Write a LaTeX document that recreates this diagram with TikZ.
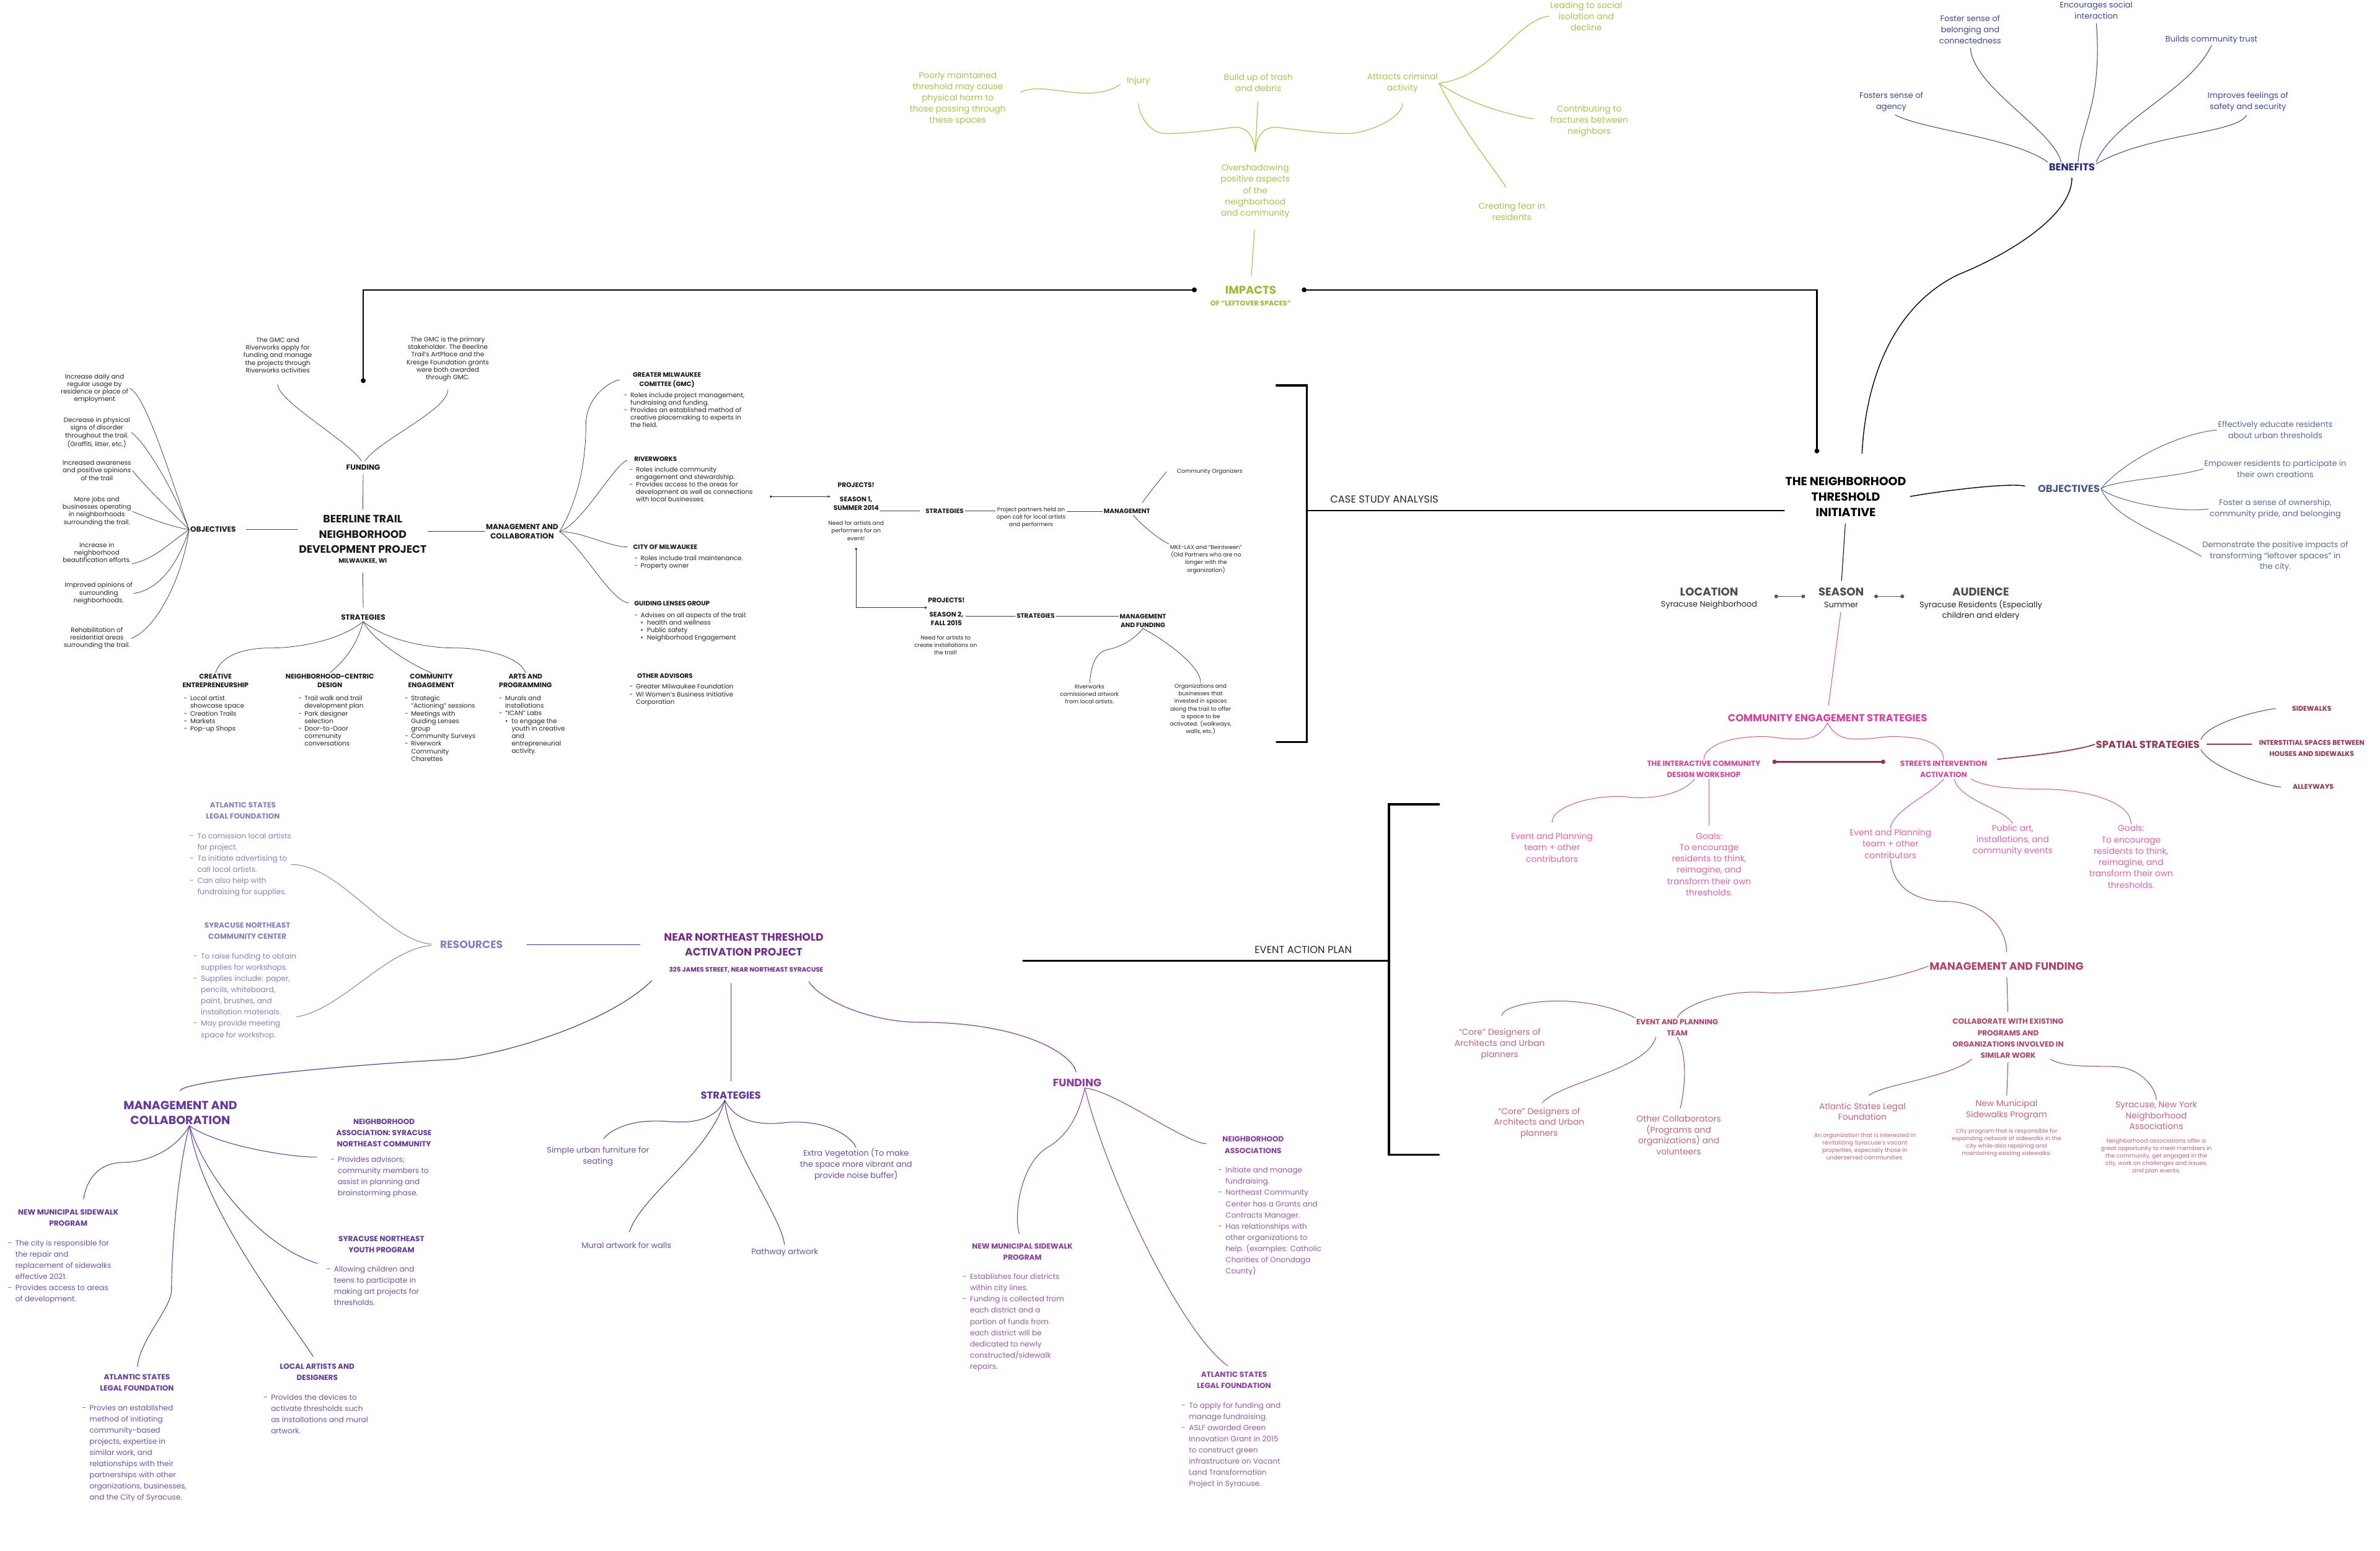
\documentclass[tikz,border=0pt]{standalone}
\usepackage{fontspec}
\setmainfont{Poppins}
\usepackage{tikz}
\usetikzlibrary{positioning,arrows.meta,calc}

\definecolor{limegrn}{RGB}{164,199,70}
\definecolor{limedark}{RGB}{150,190,50}
\definecolor{navyblue}{RGB}{36,44,130}
\definecolor{benblue}{RGB}{60,70,160}
\definecolor{slateblue}{RGB}{86,106,156}
\definecolor{slatedark}{RGB}{70,90,142}
\definecolor{pinkhot}{RGB}{212,66,158}
\definecolor{pinkleaf}{RGB}{226,96,172}
\definecolor{maroon}{RGB}{152,50,82}
\definecolor{rosewood}{RGB}{176,68,110}
\definecolor{roseleaf}{RGB}{198,96,136}
\definecolor{grape}{RGB}{100,56,160}
\definecolor{grapetxt}{RGB}{114,80,176}
\definecolor{lavender}{RGB}{136,126,194}
\definecolor{plum}{RGB}{118,44,140}
\definecolor{orchid}{RGB}{140,60,160}
\definecolor{orchidtxt}{RGB}{156,86,174}
\definecolor{violet}{RGB}{92,56,156}

\newcommand{\fsz}[2]{\fontsize{#1}{#2}\selectfont}
\newcommand{\ddash}{\makebox[1em][l]{-}}
\newcommand{\dgap}{\hspace*{1em}}
\newcommand{\dbul}{\makebox[1em][l]{\textbullet}}

\begin{document}
\begin{tikzpicture}[x=0.05cm, y=-0.05cm, line cap=round,
  every node/.style={align=center, inner sep=1pt},
  lst/.style={align=left, anchor=north west, inner sep=0pt},
  % black case study
  bktxt/.style={font=\fsz{6}{7.1}, text=black!85},
  bkneed/.style={font=\fsz{5.3}{7.1}, text=black!85},
  bklbl/.style={font=\fsz{7}{9}\bfseries, text=black!90},
  bklbl2/.style={font=\fsz{6}{8.1}\bfseries, text=black!90},
  bkproj/.style={font=\fsz{6.2}{8.1}\bfseries, text=black!90},
  bksub/.style={font=\fsz{6.3}{8.3}\bfseries, text=black!90},
  bkhd2/.style={font=\fsz{6}{8.4}\bfseries, text=black!90},
  bktitle/.style={font=\fsz{10}{14}\bfseries, text=black!90},
  bkmilw/.style={font=\fsz{5.8}{7}\bfseries, text=black!90},
  bkline/.style={draw=black!75, line width=0.45pt},
  kline/.style={draw=black, line width=0.8pt},
  kthick/.style={draw=black, line width=2pt},
  kconn/.style={draw=black, line width=1.2pt, {Circle[length=4.5pt]}-{Circle[length=4.5pt]}},
  sdot/.style={draw=black!80, line width=0.45pt, {Circle[length=2.2pt]}-{Circle[length=2.2pt]}},
  sarrow/.style={draw=black!80, line width=0.45pt, {Circle[length=2.2pt]}-{Stealth[length=3pt]}},
  sect/.style={font=\fsz{9.5}{11}, text=black!85},
  % green impacts
  gtxt/.style={font=\fsz{8}{10.5}, text=limegrn},
  ghead/.style={font=\fsz{10.5}{12}\bfseries, text=limedark},
  gsub/.style={font=\fsz{6.5}{8}\bfseries, text=limedark},
  gline/.style={draw=limegrn, line width=0.7pt},
  % blue benefits / objectives
  btxt/.style={font=\fsz{7.5}{10.5}, text=benblue},
  bhead/.style={font=\fsz{9.5}{11}\bfseries, text=navyblue},
  bline/.style={draw=benblue, line width=0.6pt},
  ntitle/.style={font=\fsz{11}{14.5}\bfseries, text=black},
  ohead/.style={font=\fsz{9.5}{11}\bfseries, text=slatedark},
  otxt/.style={font=\fsz{7.5}{10.3}, text=slateblue},
  oline/.style={draw=slateblue, line width=0.6pt},
  shead/.style={font=\fsz{10.5}{12}\bfseries, text=black!70},
  ssub/.style={font=\fsz{7.5}{10}, text=black!85},
  dumb/.style={draw=black!65, line width=1pt, {Circle[length=3.5pt]}-{Circle[length=3.5pt]}},
  % pink engagement
  phead/.style={font=\fsz{9.5}{11}\bfseries, text=pinkhot},
  psub/.style={font=\fsz{7}{10.5}\bfseries, text=pinkhot},
  pleaf/.style={font=\fsz{8}{10.6}, text=pinkleaf},
  pline/.style={draw=pinkhot!90, line width=0.6pt},
  mhead/.style={font=\fsz{9.5}{11}\bfseries, text=maroon},
  mitem/.style={font=\fsz{6.4}{10.3}\bfseries, text=maroon},
  mline/.style={draw=maroon, line width=0.6pt},
  mdumb/.style={draw=maroon, line width=1.4pt, {Circle[length=4pt]}-{Circle[length=4pt]}},
  mfhead/.style={font=\fsz{10}{12}\bfseries, text=rosewood},
  mfsub/.style={font=\fsz{7}{10.5}\bfseries, text=rosewood},
  mfleaf/.style={font=\fsz{8}{10.3}, text=roseleaf},
  mfnote/.style={font=\fsz{5.4}{7}, text=roseleaf},
  mline2/.style={draw=rosewood, line width=0.6pt},
  % purple project
  rhead/.style={font=\fsz{7}{10.5}\bfseries, text=lavender},
  rtxt/.style={font=\fsz{7}{10.5}, text=lavender},
  rbig/.style={font=\fsz{10}{12}\bfseries, text=lavender},
  rline/.style={draw=lavender, line width=0.6pt},
  ptitle/.style={font=\fsz{10}{14}\bfseries, text=plum},
  paddr/.style={font=\fsz{6}{8}\bfseries, text=plum},
  mchead/.style={font=\fsz{11}{14}\bfseries, text=grape},
  mitemhd/.style={font=\fsz{7}{10.5}\bfseries, text=grape},
  mlist/.style={font=\fsz{7}{10.5}, text=grapetxt},
  mcline/.style={draw=grape, line width=0.6pt},
  pshead/.style={font=\fsz{9.5}{11}\bfseries, text=violet},
  psleaf/.style={font=\fsz{7.5}{10.3}, text=violet!90},
  psline/.style={draw=violet, line width=0.6pt},
  pfhead/.style={font=\fsz{10}{12}\bfseries, text=orchid},
  fitemhd/.style={font=\fsz{7}{10.5}\bfseries, text=orchid},
  flist/.style={font=\fsz{7}{10.5}, text=orchidtxt},
  fpline/.style={draw=orchid, line width=0.6pt}]

\path[use as bounding box, fill=white] (0,0) rectangle (1568,1022);

% ---------- impacts ----------
\node[gtxt] (poorly) at (631,65) {Poorly maintained\\threshold may cause\\physical harm to\\those passing through\\these spaces};
\node[gtxt] (injury) at (750,53.5) {Injury};
\node[gtxt] (trash) at (829,54.4) {Build up of trash\\and debris};
\node[gtxt] (criminal) at (924,54.8) {Attracts criminal\\activity};
\node[gtxt] (isolation) at (1045,10.6) {Leading to social\\isolation and\\decline};
\node[gtxt] (fractures) at (1047,79.6) {Contributing to\\fractures between\\neighbors};
\node[gtxt] (fear) at (996,139.3) {Creating fear in\\residents};
\node[gtxt] (overshadow) at (827,126) {Overshadowing\\positive aspects\\of the\\neighborhood\\and community};
\node[ghead] (impacts) at (824,191) {IMPACTS};
\node[gsub] (leftover) at (824,200) {OF ``LEFTOVER SPACES''};
\coordinate (gtip) at (827,100);

\draw[gline, shorten <=0.5cm, shorten >=0.2cm] (poorly.east) .. controls +(25,-12) and +(-25,16) .. (injury.west);
\draw[gline, shorten <=0.55cm] (injury.south) .. controls +(0,16) and +(-12,0) .. (768,88) .. controls +(18,0) and +(-10,1) .. (812,84) .. controls +(10,-1) and +(-1,-10) .. (gtip);
\draw[gline, shorten <=0.3cm] (trash.south) -- (gtip);
\draw[gline, shorten <=0.3cm] (criminal.south) .. controls +(0,16) and +(12,0) .. (888,88) .. controls +(-18,0) and +(10,1) .. (842,84) .. controls +(-10,-1) and +(1,-10) .. (gtip);
\draw[gline] (criminal.east) .. controls +(35,-4) and +(-22,3) .. (isolation.west);
\draw[gline, shorten >=0.5cm] (criminal.east) .. controls +(22,16) and +(-16,-2) .. (fractures.west);
\draw[gline, shorten >=0.5cm] (criminal.east) .. controls +(14,30) and +(-6,-14) .. (fear.north);
\draw[gline, shorten <=0.35cm, shorten >=0.3cm] (overshadow.south) -- (impacts.north);

% ---------- benefits ----------
\node[bhead] (benefits) at (1365,110) {BENEFITS};
\node[btxt] (agency) at (1246,67) {Fosters sense of\\agency};
\node[btxt] (belong) at (1298,19.4) {Foster sense of\\belonging and\\connectedness};
\node[btxt] (social) at (1381,6.9) {Encourages social\\interaction};
\node[btxt] (trust) at (1457,26.3) {Builds community trust};
\node[btxt] (safety) at (1481,67) {Improves feelings of\\safety and security};
\draw[bline, shorten <=0.15cm] (agency.south) .. controls +(20,11) and +(-22,-16) .. (benefits.north west);
\draw[bline, shorten <=0.1cm] (belong.south) .. controls +(2,28) and +(-6,-22) .. ([xshift=-0.35cm]benefits.north);
\draw[bline, shorten <=0.1cm] (social.south) .. controls +(4,55) and +(2,-24) .. ([xshift=0.2cm]benefits.north);
\draw[bline] (trust.south) .. controls +(-14,30) and +(12,-28) .. (benefits.north east);
\draw[bline, shorten <=0.1cm] (safety.south) .. controls +(-8,14) and +(35,-20) .. ([yshift=0.1cm]benefits.east);

% ---------- neighborhood threshold initiative ----------
\node[ntitle] (nti) at (1216,327.5) {THE NEIGHBORHOOD\\THRESHOLD\\INITIATIVE};
\draw[kline, shorten <=0.2cm, shorten >=0.75cm] (benefits.south) .. controls +(0,30) and +(30,-12) .. (1290,181) .. controls +(-45,22) and +(3,-60) .. ([xshift=0.5cm]nti.north);
\draw[kconn, shorten <=0.8cm, shorten >=0.75cm] (impacts.east) -| ([xshift=-0.95cm]nti.north);

\node[ohead] (objr) at (1363,322) {OBJECTIVES};
\draw[kline, shorten <=0.1cm, shorten >=0.4cm] (nti.east) .. controls +(22,-4) and +(-18,-4) .. (objr.west);
\node[otxt] (educate) at (1499,283.3) {Effectively educate residents\\about urban thresholds};
\node[otxt] (empower) at (1499,309) {Empower residents to participate in\\their own creations};
\node[otxt] (ownership) at (1499,335.4) {Foster a sense of ownership,\\community pride, and belonging};
\node[otxt] (demonstrate) at (1499,366.6) {Demonstrate the positive impacts of\\transforming ``leftover spaces'' in\\the city.};
\draw[oline] (objr.east) .. controls +(15,-18) and +(-27,3) .. (educate.west);
\draw[oline] (objr.east) .. controls +(10,-6) and +(-20,6) .. (empower.west);
\draw[oline] (objr.east) .. controls +(8,8) and +(-20,3) .. (ownership.west);
\draw[oline] (objr.east) .. controls +(8,20) and +(-25,-15) .. (demonstrate.west);

\node[shead] (location) at (1126,390) {LOCATION};
\node[ssub] (locsub) at (1126,398.6) {Syracuse Neighborhood};
\node[shead] (season) at (1213,390) {SEASON};
\node[ssub] (seasonsub) at (1213,398.6) {Summer};
\node[shead] (audience) at (1305,390) {AUDIENCE};
\node[ssub] (audsub) at (1305,402) {Syracuse Residents (Especially\\children and eldery};
\draw[kline, line width=0.6pt, shorten <=0.2cm, shorten >=0.2cm] (nti.south) -- (season.north);
\draw[dumb, shorten <=1.15cm, shorten >=0.4cm] ([yshift=-0.15cm]location.east) -- ([yshift=-0.15cm]season.west);
\draw[dumb, shorten <=0.3cm, shorten >=1.55cm] ([yshift=-0.15cm]season.east) -- ([yshift=-0.15cm]audience.west);

% ---------- community engagement ----------
\node[phead] (ces) at (1204,473) {COMMUNITY ENGAGEMENT STRATEGIES};
\draw[pline, shorten <=0.1cm, shorten >=0.25cm] (seasonsub.south) -- (ces.north);
\node[psub] (workshop) at (1122.5,507) {THE INTERACTIVE COMMUNITY\\DESIGN WORKSHOP};
\node[psub] (streets) at (1280.5,507) {STREETS INTERVENTION\\ACTIVATION};
\draw[pline] (ces.south) .. controls +(-3,6) and +(10,0) .. (1186,487) .. controls +(-20,0) and +(18,-2) .. (1150,486) .. controls +(-14,1) and +(0,-8) .. (workshop.north);
\draw[pline] (ces.south) .. controls +(3,6) and +(-10,0) .. (1222,487) .. controls +(20,0) and +(-18,-2) .. (1258,486) .. controls +(14,1) and +(0,-8) .. (streets.north);
\draw[mdumb, shorten <=0.35cm, shorten >=0.45cm] ([yshift=0.25cm]workshop.east) -- ([yshift=0.25cm]streets.west);

\node[mhead] (spatial) at (1415,490.5) {SPATIAL STRATEGIES};
\node[mitem] (sidewalks) at (1523,467) {SIDEWALKS};
\node[mitem] (interstitial) at (1523,493) {INTERSTITIAL SPACES BETWEEN\\HOUSES AND SIDEWALKS};
\node[mitem] (alleys) at (1524,518.6) {ALLEYWAYS};
\draw[mline, line width=1pt, shorten <=0.3cm] ([yshift=0.3cm]streets.east) .. controls +(18,-2) and +(-14,5) .. (spatial.west);
\draw[mline, line width=1pt, shorten <=0.2cm, shorten >=0.2cm] (spatial.east) -- (spatial.east -| interstitial.west);
\draw[mline, shorten >=0.5cm] (spatial.north east) .. controls +(5,-12) and +(-15,0) .. (sidewalks.west);
\draw[mline, shorten >=0.35cm] (spatial.south east) .. controls +(5,12) and +(-15,0) .. (alleys.west);

\node[pleaf] (wsteam) at (1022.5,558.5) {Event and Planning\\team + other\\contributors};
\node[pleaf] (wsgoals) at (1126,569.5) {Goals:\\To encourage\\residents to think,\\reimagine, and\\transform their own\\thresholds.};
\draw[pline, shorten >=0.3cm] ([xshift=-0.3cm]workshop.south) .. controls +(-8,10) and +(15,1) .. (1075,525.5) .. controls +(-20,-3) and +(0,-18) .. (wsteam.north);
\draw[pline, shorten >=0.2cm] (wsgoals.north |- workshop.south) -- (wsgoals.north);

\node[pleaf] (stteam) at (1245.5,556) {Event and Planning\\team + other\\contributors};
\node[pleaf] (publicart) at (1326,553.7) {Public art,\\installations, and\\community events};
\node[pleaf] (stgoals) at (1404,564.5) {Goals:\\To encourage\\residents to think,\\reimagine, and\\transform their own\\thresholds.};
\draw[pline] (streets.south) .. controls +(-8,10) and +(2,-12) .. (stteam.north);
\draw[pline] ([xshift=0.35cm]streets.south) .. controls +(3,14) and +(-6,-10) .. (publicart.north);
\draw[pline] ([xshift=0.9cm]streets.south) .. controls +(10,6) and +(-15,0) .. (1345,520) .. controls +(28,0) and +(0,-15) .. (stgoals.north);

% ---------- management and funding ----------
\node[mfhead] (mgmtfund) at (1322,636.6) {MANAGEMENT AND FUNDING};
\draw[mline2, shorten >=0.3cm] (stteam.south) .. controls +(2,20) and +(-18,0) .. (1282,594) .. controls +(25,0) and +(0,-22) .. (mgmtfund.north);
\node[mfsub] (evteam) at (1105,677) {EVENT AND PLANNING\\TEAM};
\node[mfsub] (collab) at (1323,684.3) {COLLABORATE WITH EXISTING\\PROGRAMS AND\\ORGANIZATIONS INVOLVED IN\\SIMILAR WORK};
\draw[mline2] (mgmtfund.west) .. controls +(-25,10) and +(25,2) .. (1162,654) .. controls +(-25,-2) and +(3,-8) .. (evteam.north);
\draw[mline2, shorten <=0.2cm, shorten >=0.2cm] (mgmtfund.south) -- (collab.north);

\node[mfleaf] (core1) at (988,688) {``Core'' Designers of\\Architects and Urban\\planners};
\node[mfleaf] (core2) at (1014,740) {``Core'' Designers of\\Architects and Urban\\planners};
\node[mfleaf] (others) at (1106,748) {Other Collaborators\\(Programs and\\organizations) and\\volunteers};
\draw[mline2, shorten >=0.4cm] (evteam.north west) .. controls +(-35,-18) and +(3,-17) .. (core1.north);
\draw[mline2, shorten >=0.15cm] ([xshift=-0.7cm]evteam.south) .. controls +(-6,22) and +(14,-16) .. (core2.north);
\draw[mline2, shorten >=0.2cm] (evteam.south) .. controls +(8,15) and +(3,-12) .. (others.north);

\node[mfleaf] (aslf) at (1227,732.5) {Atlantic States Legal\\Foundation};
\node[mfnote] (aslfnote) at (1228.6,755.5) {An organization that is interested in\\revitalizing Syracuse's vacant\\properties, especially those in\\underserved communities.};
\node[mfleaf] (sidewalkprog) at (1322,731.3) {New Municipal\\Sidewalks Program};
\node[mfnote] (sidewalknote) at (1322,753) {City program that is responsible for\\expanding network of sidewalks in the\\city while also repairing and\\maintaining existing sidewalks.};
\node[mfleaf] (syrna) at (1420.6,735) {Syracuse, New York\\Neighborhood\\Associations};
\node[mfnote] (syrnanote) at (1420.6,762) {Neighborhood associations offer a\\great opportunity to meet members in\\the community, get engaged in the\\city, work on challenges and issues,\\and plan events.};
\draw[mline2, shorten >=0.3cm] ([xshift=-1.2cm]collab.south) .. controls +(-14,12) and +(12,-11) .. (aslf.north);
\draw[mline2, shorten <=0.1cm, shorten >=0.1cm] (collab.south) -- (sidewalkprog.north);
\draw[mline2] ([xshift=1.4cm]collab.south) .. controls +(10,6) and +(-15,-1) .. (1395,703) .. controls +(15,1) and +(0,-8) .. (syrna.north);

% ---------- brackets ----------
\draw[kthick] (841,254) -- (861,254) -- (861,489) -- (841,489);
\coordinate (csmid) at (861,336.5);
\draw[kthick, line width=1.5pt] (csmid) -- (csmid -| nti.west);
\node[sect] (casestudy) at (912,329) {CASE STUDY ANALYSIS};

\draw[kthick] (948,530) -- (915,530) -- (915,761) -- (948,761);
\coordinate (eapmid) at (915,633);
\coordinate (eapstart) at (674,633);
\draw[kthick, line width=1.5pt] (eapstart) -- (eapmid);
\node[sect] (eap) at (858.6,626) {EVENT ACTION PLAN};

% ---------- beerline trail ----------
\node[bktitle] (beer) at (239,352) {BEERLINE TRAIL\\NEIGHBORHOOD\\DEVELOPMENT PROJECT};
\node[bkmilw] (milw) at (239,370) {MILWAUKEE, WI};
\node[bklbl] (funding) at (239.3,308) {FUNDING};
\node[bklbl] (objectives) at (140.4,349) {OBJECTIVES};
\node[bklbl] (strat) at (239.3,407) {STRATEGIES};
\node[bklbl] (mgmt) at (344,350.3) {MANAGEMENT AND\\COLLABORATION};
\draw[kconn, shorten <=0.9cm, shorten >=2.65cm] (impacts.west) -| (funding.north);
\draw[bkline, shorten <=0.3cm] (objectives.east) -- (objectives.east -| beer.west);
\draw[bkline] (mgmt.west -| beer.east) -- (mgmt.west);
\draw[bkline, shorten <=0.1cm, shorten >=0.15cm] (funding.south) -- (beer.north);
\draw[bkline, shorten <=0.25cm, shorten >=0.2cm] (milw.south) -- (strat.north);

\node[bktxt] (gmcfund) at (183,234) {The GMC and\\Riverworks apply for\\funding and manage\\the projects through\\Riverworks activities};
\node[bktxt] (gmcprimary) at (295,236.6) {The GMC is the primary\\stakeholder. The Beerline\\Trail's ArtPlace and the\\Kresge Foundation grants\\were both awarded\\through GMC.};
\draw[bkline, shorten <=0.35cm, shorten >=0.1cm] (gmcfund.south) .. controls +(0,18) and +(-10,-15) .. (funding.north);
\draw[bkline, shorten <=0.25cm, shorten >=0.1cm] (gmcprimary.south) .. controls +(0,18) and +(10,-15) .. (funding.north);

\node[bktxt] (obj1) at (62.3,256) {Increase daily and\\regular usage by\\residence or place of\\employment};
\node[bktxt] (obj2) at (63.8,285) {Decrease in physical\\signs of disorder\\throughout the trail.\\(Graffiti, litter, etc.)};
\node[bktxt] (obj3) at (63.8,310) {Increased awareness\\and positive opinions\\of the trail};
\node[bktxt] (obj4) at (63.8,337) {More jobs and\\businesses operating\\in neighborhoods\\surrounding the trail.};
\node[bktxt] (obj5) at (63.8,364) {Increase in\\neighborhood\\beautification efforts.};
\node[bktxt] (obj6) at (65,391) {Improved opinions of\\surrounding\\neighborhoods.};
\node[bktxt] (obj7) at (63.8,420.6) {Rehabilitation of\\residential areas\\surrounding the trail.};
\draw[bkline] (objectives.west) .. controls +(-13,-37) and +(10,3) .. (obj1.east);
\draw[bkline] (objectives.west) .. controls +(-12,-30) and +(8,5) .. (obj2.east);
\draw[bkline] (objectives.west) .. controls +(-15,-15) and +(8,10) .. (obj3.east);
\draw[bkline] (objectives.west) .. controls +(-12,-2) and +(12,5) .. (obj4.east);
\draw[bkline] (objectives.west) .. controls +(-12,8) and +(15,-3) .. (obj5.south east);
\draw[bkline] (objectives.west) .. controls +(-8,25) and +(15,-2) .. (obj6.east);
\draw[bkline] (objectives.west) .. controls +(-5,35) and +(15,-5) .. (obj7.east);

\node[bksub] (creative) at (142,448.7) {CREATIVE\\ENTREPRENEURSHIP};
\node[bktxt, lst] (creativelist) at (121,458.3) {\ddash Local artist\\\dgap showcase space\\\ddash Creation Trails\\\ddash Markets\\\ddash Pop-up Shops};
\node[bksub] (ncd) at (217.3,448.7) {NEIGHBORHOOD-CENTRIC\\DESIGN};
\node[bktxt, lst] (ncdlist) at (196.3,458.3) {\ddash Trail walk and trail\\\dgap development plan\\\ddash Park designer\\\dgap selection\\\ddash Door-to-Door\\\dgap community\\\dgap conversations};
\node[bksub] (ceng) at (284.2,448.7) {COMMUNITY\\ENGAGEMENT};
\node[bktxt, lst] (cenglist) at (266.5,458.3) {\ddash Strategic\\\dgap ``Actioning'' sessions\\\ddash Meetings with\\\dgap Guiding Lenses\\\dgap group\\\ddash Community Surveys\\\ddash Riverwork\\\dgap Community\\\dgap Charettes};
\node[bksub] (arts) at (346.2,448.7) {ARTS AND\\PROGRAMMING};
\node[bktxt, lst] (artslist) at (328.5,458.3) {\ddash Murals and\\\dgap Installations\\\ddash ``ICAN'' Labs\\\dgap\dbul to engage the\\\dgap\dgap youth in creative\\\dgap\dgap and\\\dgap\dgap entrepreneurial\\\dgap\dgap activity.};
\draw[bkline] (strat.south) .. controls +(-15,12) and +(20,0) .. (178,427) .. controls +(-20,0) and +(3,-10) .. (creative.north);
\draw[bkline] (strat.south) .. controls +(-4,15) and +(10,-8) .. (ncd.north);
\draw[bkline] (strat.south) .. controls +(6,12) and +(-15,-6) .. (ceng.north);
\draw[bkline] (strat.south) .. controls +(15,12) and +(-20,0) .. (300,427) .. controls +(20,0) and +(-3,-10) .. (arts.north);

\node[bkhd2] (gmc) at (439.4,250.4) {GREATER MILWAUKEE\\COMITTEE (GMC)};
\node[bktxt, lst] (gmclist) at (411,258.4) {\ddash Roles include project management,\\\dgap fundraising and funding.\\\ddash Provides an established method of\\\dgap creative placemaking to experts in\\\dgap the field.};
\node[bkhd2, anchor=west] (river) at (417,302.5) {RIVERWORKS};
\node[bktxt, lst] (riverlist) at (414.6,307.4) {\ddash Roles include community\\\dgap engagement and stewardship.\\\ddash Provides access to the areas for\\\dgap development as well as connections\\\dgap with local businesses.};
\node[bkhd2, anchor=west] (city) at (416.3,360.4) {CITY OF MILWAUKEE};
\node[bktxt, lst] (citylist) at (417.7,365.9) {\ddash Roles include trail maintenance.\\\ddash Property owner};
\node[bkhd2, anchor=west] (guiding) at (417,397.7) {GUIDING LENSES GROUP};
\node[bktxt, lst] (guidinglist) at (417.7,403.4) {\ddash Advises on all aspects of the trail:\\\dgap\dbul health and wellness\\\dgap\dbul Public safety\\\dgap\dbul Neighborhood Engagement};
\node[bkhd2, anchor=west] (advisors) at (419,445.4) {OTHER ADVISORS};
\node[bktxt, lst] (advisorslist) at (414.6,450.7) {\ddash Greater Milwaukee Foundation\\\ddash WI Women's Business Initiative\\\dgap Corporation};
\draw[bkline, shorten >=0.4cm] (mgmt.east) .. controls +(12,-20) and +(0,25) .. (386,280) .. controls +(0,-20) and +(-12,0) .. (gmc.west);
\draw[bkline, shorten >=0.2cm] (mgmt.east) .. controls +(15,-5) and +(-12,3) .. (river.west);
\draw[bkline, shorten >=0.15cm] (mgmt.east) .. controls +(15,0) and +(-15,0) .. (city.west);
\draw[bkline, shorten >=0.15cm] (mgmt.east) .. controls +(15,10) and +(-15,-2) .. (guiding.west);

% projects
\node[bkproj] (proj1) at (564,327.2) {PROJECTS!\\[5pt]SEASON 1,\\SUMMER 2014};
\node[bkneed] (need1) at (564,349.7) {Need for artists and\\performers for an\\event!};
\draw[sarrow, shorten <=0.55cm, shorten >=0.05cm] (riverlist.east |- proj1.west) -- (proj1.west);
\node[bklbl2] (strat1) at (622.3,336.7) {STRATEGIES};
\node[bkneed] (partners) at (679.3,341) {Project partners held an\\open call for local artists\\and performers};
\node[bklbl2] (mgmt1) at (742.5,337) {MANAGEMENT};
\node[bkneed] (orgs) at (797,310.7) {Community Organizers};
\node[bkneed] (mkelax) at (794.6,368.5) {MKE-LAX and ``Beintween''\\(Old Partners who are no\\longer with the\\organization)};
\draw[bkline, shorten >=0.15cm] (proj1.east |- strat1) -- (strat1.west);
\draw[bkline] (strat1.east) -- (strat1 -| partners.west);
\draw[bkline] (partners.east |- mgmt1) -- (mgmt1.west);
\draw[bkline, shorten <=0.2cm, shorten >=0.3cm] ([xshift=0.4cm]mgmt1.north) .. controls +(5,-8) and +(-6,0) .. (orgs.west);
\draw[bkline] ([xshift=0.2cm]mgmt1.south) .. controls +(4,5) and +(-6,-2) .. (mkelax.north west);

\node[bkproj] (proj2) at (623.5,403) {PROJECTS!\\[5pt]SEASON 2,\\FALL 2015};
\node[bkneed] (need2) at (623,425.2) {Need for artists to\\create installations on\\the trail!};
\node[bklbl2] (strat2) at (682.3,406) {STRATEGIES};
\node[bklbl2] (mf2) at (753,409) {MANAGEMENT\\AND FUNDING};
\draw[sdot, shorten <=0.2cm] (need1.south) |- ([yshift=0.13cm]proj2.west);
\draw[bkline] (proj2.east |- strat2) -- (strat2.west);
\draw[bkline] (strat2.east) -- (strat2 -| mf2.west);
\node[bkneed] (riverart) at (717.8,457.4) {Riverworks\\comissioned artwork\\from local artists.};
\node[bkneed] (orgsbiz) at (791,467.3) {Organizations and\\businesses that\\invested in spaces\\along the trail to offer\\a space to be\\activated. (walkways,\\walls, etc.)};
\draw[bkline] (mf2.south) .. controls +(-5,6) and +(10,-2) .. (730,428) .. controls +(-10,2) and +(1,-8) .. (riverart.north);
\draw[bkline] (mf2.south) .. controls +(10,5) and +(0,-12) .. (orgsbiz.north);

% ---------- near northeast project ----------
\node[rhead] (aslfr) at (160,534.1) {ATLANTIC STATES\\LEGAL FOUNDATION};
\node[rtxt, lst] (aslfrlist) at (125,548.6) {\ddash To comission local artists\\\dgap for project.\\\ddash To initiate advertising to\\\dgap call local artists.\\\ddash Can also help with\\\dgap fundraising for supplies.};
\node[rhead] (sncc) at (163,613.5) {SYRACUSE NORTHEAST\\COMMUNITY CENTER};
\node[rtxt, lst] (sncclist) at (127.3,628) {\ddash To raise funding to obtain\\\dgap supplies for workshops.\\\ddash Supplies include: paper,\\\dgap pencils, whiteboard,\\\dgap paint, brushes, and\\\dgap installation materials.\\\ddash May provide meeting\\\dgap space for workshop.};
\node[rbig] (resources) at (310.6,622.6) {RESOURCES};
\draw[rline, shorten >=0.25cm] (aslfrlist.east) .. controls +(32,0) and +(-35,-3) .. (resources.west);
\draw[rline, shorten >=0.25cm] ([yshift=-0.68cm]sncclist.east) .. controls +(30,-5) and +(-35,3) .. (resources.west);

\node[ptitle] (nne) at (490,622.5) {NEAR NORTHEAST THRESHOLD\\ACTIVATION PROJECT};
\node[paddr] (nneaddr) at (491.6,639.3) {325 JAMES STREET, NEAR NORTHEAST SYRACUSE};
\draw[mcline, shorten <=0.75cm, shorten >=0.75cm] (resources.east) -- (nne.west);

\node[mchead] (mc) at (118.8,733.3) {MANAGEMENT AND\\COLLABORATION};
\node[pshead] (pstrat) at (481.5,721.7) {STRATEGIES};
\node[pfhead] (pfund) at (709.7,713.6) {FUNDING};
\draw[mcline, line width=0.7pt, shorten <=0.3cm, shorten >=0.3cm] ([xshift=-2.9cm]nneaddr.south) .. controls +(-30,30) and +(40,-5) .. (300,698) .. controls +(-80,4) and +(0,-12) .. (mc.north);
\draw[psline, line width=0.7pt, shorten <=0.3cm, shorten >=0.3cm] (pstrat.north |- nneaddr.south) -- (pstrat.north);
\draw[fpline, line width=0.7pt, shorten <=0.3cm, shorten >=0.2cm] ([xshift=1.9cm]nneaddr.south) .. controls +(12,18) and +(-30,0) .. (605,673.6) .. controls +(70,0) and +(-3,-15) .. (pfund.north);

% management and collaboration
\node[mitemhd] (nmsp) at (45,802.4) {NEW MUNICIPAL SIDEWALK\\PROGRAM};
\node[mlist, lst] (nmsplist) at (5.1,817) {\ddash The city is responsible for\\\dgap the repair and\\\dgap replacement of sidewalks\\\dgap effective 2021.\\\ddash Provides access to areas\\\dgap of development.};
\node[mitemhd] (nahead) at (253,746.6) {NEIGHBORHOOD\\ASSOCIATION: SYRACUSE\\NORTHEAST COMMUNITY};
\node[mlist, lst] (nalist) at (217.5,762) {\ddash Provides advisors;\\\dgap community members to\\\dgap assist in planning and\\\dgap brainstorming phase.};
\node[mitemhd] (snyp) at (251.3,820) {SYRACUSE NORTHEAST\\YOUTH PROGRAM};
\node[mlist, lst] (snyplist) at (215,834.3) {\ddash Allowing children and\\\dgap teens to participate in\\\dgap making art projects for\\\dgap thresholds.};
\node[mitemhd] (lad) at (209,904.3) {LOCAL ARTISTS AND\\DESIGNERS};
\node[mlist, lst] (ladlist) at (173.5,918.8) {\ddash Provides the devices to\\\dgap activate thresholds such\\\dgap as installations and mural\\\dgap artwork.};
\node[mitemhd] (aslfm) at (90.2,910.9) {ATLANTIC STATES\\LEGAL FOUNDATION};
\node[mlist, lst] (aslfmlist) at (53.9,925.5) {\ddash Provies an established\\\dgap method of initiating\\\dgap community-based\\\dgap projects, expertise in\\\dgap similar work, and\\\dgap relationships with their\\\dgap partnerships with other\\\dgap organizations, businesses,\\\dgap and the City of Syracuse.};
\draw[mcline, shorten >=0.3cm] ([xshift=0.3cm]mc.south) .. controls +(-8,14) and +(20,0) .. (80,766) .. controls +(-20,1) and +(2,-12) .. ([xshift=0.45cm]nmsp.north);
\draw[mcline, shorten >=0.45cm] ([xshift=0.3cm]mc.south) .. controls +(20,14) and +(-22,1) .. (nalist.north west);
\draw[mcline, shorten >=0.3cm] ([xshift=0.3cm]mc.south) .. controls +(12,38) and +(-40,-12) .. (snyplist.north west);
\draw[mcline, shorten >=0.25cm] ([xshift=0.3cm]mc.south) .. controls +(8,55) and +(-18,-28) .. (lad.north);
\draw[mcline, shorten >=0.2cm] ([xshift=0.3cm]mc.south) .. controls +(-8,30) and +(0,-25) .. (113,850) .. controls +(0,12) and +(2,-22) .. (aslfm.north);

% strategies
\node[psleaf] (furniture) at (394,762.1) {Simple urban furniture for\\seating};
\node[psleaf] (mural) at (412.7,820.4) {Mural artwork for walls};
\node[psleaf] (pathway) at (517,825.5) {Pathway artwork};
\node[psleaf] (veg) at (564,767.4) {Extra Vegetation (To make\\the space more vibrant and\\provide noise buffer)};
\draw[psline, shorten >=0.3cm] ([xshift=-0.2cm]pstrat.south) .. controls +(-5,10) and +(22,2) .. (440,739) .. controls +(-25,-2) and +(8,-10) .. (furniture.north);
\draw[psline, shorten >=0.3cm] ([xshift=-0.2cm]pstrat.south) .. controls +(-10,35) and +(10,-30) .. (mural.north);
\draw[psline, shorten >=0.1cm] ([xshift=-0.2cm]pstrat.south) .. controls +(2,30) and +(-2,-20) .. (pathway.north);
\draw[psline] ([xshift=-0.2cm]pstrat.south) .. controls +(5,10) and +(-22,2) .. (515,740) .. controls +(25,-3) and +(-5,-10) .. (veg.north);

% funding
\node[fitemhd] (nmspf) at (673.6,825) {NEW MUNICIPAL SIDEWALK\\PROGRAM};
\node[flist, lst] (nmspflist) at (634,839.2) {\ddash Establishes four districts\\\dgap within city lines.\\\ddash Funding is collected from\\\dgap each district and a\\\dgap portion of funds from\\\dgap each district will be\\\dgap dedicated to newly\\\dgap constructed/sidewalk\\\dgap repairs.};
\node[fitemhd] (nassoc) at (825.6,754.5) {NEIGHBORHOOD\\ASSOCIATIONS};
\node[flist, lst] (nassoclist) at (802.4,769) {\ddash Initiate and manage\\\dgap fundraising.\\\ddash Northeast Community\\\dgap Center has a Grants and\\\dgap Contracts Manager.\\\ddash Has relationships with\\\dgap other organizations to\\\dgap help. (examples: Catholic\\\dgap Charities of Onondaga\\\dgap County)};
\node[fitemhd] (aslff) at (813,909.3) {ATLANTIC STATES\\LEGAL FOUNDATION};
\node[flist, lst] (aslfflist) at (778.3,924) {\ddash To apply for funding and\\\dgap manage fundraising.\\\ddash ASLF awarded Green\\\dgap Innovation Grant in 2015\\\dgap to construct green\\\dgap infrastructure on Vacant\\\dgap Land Transformation\\\dgap Project in Syracuse.};
\draw[fpline, shorten >=0.3cm] ([xshift=0.25cm]pfund.south) .. controls +(-4,18) and +(12,-8) .. (692,755) .. controls +(-20,10) and +(-6,-17) .. (nmspf.north);
\draw[fpline, shorten >=0.5cm] ([xshift=0.25cm]pfund.south) .. controls +(20,2) and +(-25,-2) .. (nassoc.west);
\draw[fpline, shorten >=0.25cm] ([xshift=0.25cm]pfund.south) .. controls +(15,60) and +(-35,-25) .. (aslff.north);
\end{tikzpicture}
\end{document}
